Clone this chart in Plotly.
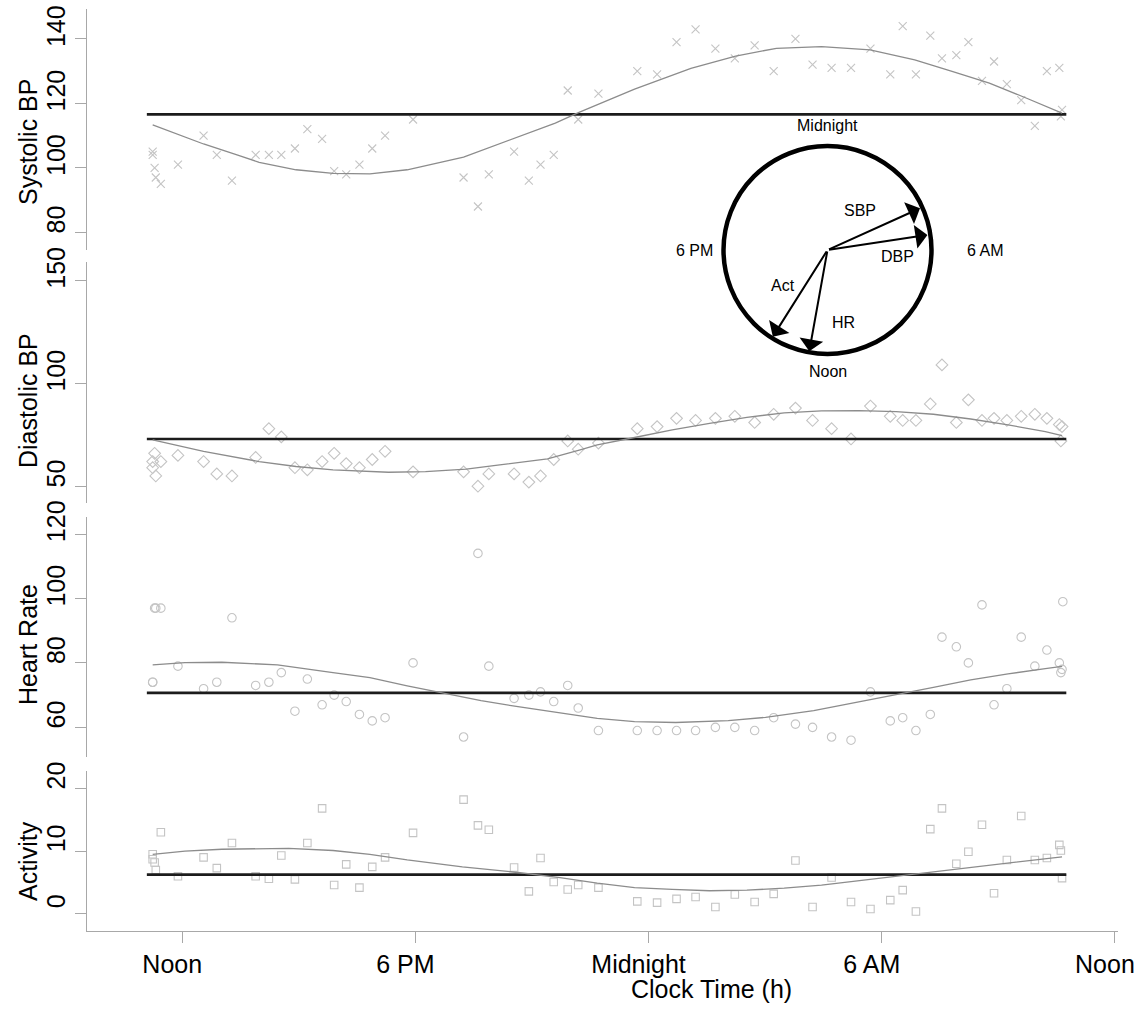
import math
import plotly.graph_objects as go

# ---------------- data ----------------
hours = [11.24, 11.24, 11.29, 11.32, 11.45, 11.89, 12.55, 12.89, 13.28, 13.89,
         14.23, 14.55, 14.90, 15.22, 15.60, 15.91, 16.22, 16.56, 16.89, 17.22,
         17.94, 19.24, 19.61, 19.89, 20.54, 20.92, 21.22, 21.56, 21.92, 22.19,
         22.71, 23.71, 24.22, 24.72, 25.21, 25.72, 26.22, 26.73, 27.22, 27.78,
         28.22, 28.71, 29.21, 29.71, 30.22, 30.54, 30.88, 31.25, 31.55, 31.92,
         32.23, 32.58, 32.89, 33.22, 33.59, 33.94, 34.25, 34.57, 34.61, 34.64]
hr_hours = hours + [34.66]

sbp = [105, 104, 100, 97, 95, 101, 110, 104, 96, 104,
       104, 104, 106, 112, 109, 99, 98, 101, 106, 110,
       115, 97, 88, 98, 105, 96, 101, 104, 124, 115,
       123, 130, 129, 139, 143, 137, 134, 138, 130, 140,
       132, 131, 131, 137, 129, 144, 129, 141, 134, 135,
       139, 127, 133, 126, 121, 113, 130, 131, 116, 118]
dbp = [62, 59, 66, 55, 62, 65, 62, 56, 55, 64,
       78, 74, 59, 58, 62, 66, 61, 59, 63, 67,
       57, 57, 50, 56, 56, 52, 55, 63, 72, 68,
       71, 78, 79, 83, 82, 83, 84, 81, 85, 88,
       82, 78, 73, 89, 84, 82, 82, 90, 109, 81,
       92, 82, 83, 82, 84, 85, 83, 80, 72, 79]
hr = [74, 74, 97, 97, 97, 79, 72, 74, 94, 73,
      74, 77, 65, 75, 67, 70, 68, 64, 62, 63,
      80, 57, 114, 79, 69, 70, 71, 68, 73, 66,
      59, 59, 59, 59, 59, 60, 60, 59, 63, 61,
      60, 57, 56, 71, 62, 63, 59, 64, 88, 85,
      80, 98, 67, 72, 88, 79, 84, 80, 77, 78, 99]
act = [9.5, 8.7, 8.2, 7.0, 13.0, 6.0, 9.0, 7.3, 11.3, 6.0,
       5.6, 9.3, 5.5, 11.3, 16.8, 4.6, 7.9, 4.2, 7.5, 9.0,
       12.9, 18.2, 14.1, 13.4, 7.4, 3.6, 8.9, 5.1, 3.9, 4.6,
       4.2, 2.0, 1.8, 2.4, 2.7, 1.1, 3.1, 1.9, 3.2, 8.5,
       1.1, 5.8, 1.9, 0.8, 2.2, 3.8, 0.4, 13.5, 16.8, 8.0,
       9.9, 14.2, 3.3, 8.6, 15.6, 8.6, 8.9, 11.0, 10.1, 5.7]

# fitted curves
sbp_fit_h = [11.24, 12.55, 13.41, 13.98, 14.93, 15.88, 16.83, 17.79, 19.24, 20.64, 21.60, 22.21,
             23.64, 25.09, 26.24, 27.29, 28.45, 29.70, 30.85, 31.81, 32.77, 33.73, 34.64]
sbp_fit = [113.3, 107.4, 104.0, 101.7, 99.4, 98.3, 98.1, 99.4, 103.3, 109.7, 113.9, 117.2,
           124.4, 130.9, 134.7, 137.1, 137.6, 136.6, 133.5, 129.9, 126.3, 121.6, 117.0]
dbp_fit_h = [11.24, 12.55, 13.98, 14.93, 15.88, 17.31, 18.26, 19.31, 20.17, 21.40, 22.24, 22.68, 23.64,
             24.61, 25.57, 26.53, 27.49, 28.45, 29.41, 30.37, 31.33, 32.29, 33.25, 34.21, 34.64]
dbp_fit = [72.5, 66.9, 62.0, 59.6, 58.0, 56.8, 57.1, 58.3, 60.4, 63.3, 67.7, 70.1, 73.7,
           77.4, 80.6, 83.5, 85.7, 86.6, 86.8, 86.3, 85.0, 82.7, 79.8, 76.6, 74.6]
hr_fit_h = [11.24, 12.07, 13.02, 14.45, 15.88, 16.83, 17.79, 18.74, 19.69, 20.64, 21.60, 22.68,
            23.64, 24.70, 26.05, 27.01, 28.25, 29.41, 30.56, 31.33, 32.29, 33.25, 34.21, 34.64]
hr_fit = [79.4, 80.1, 80.2, 79.4, 77.0, 75.4, 72.9, 70.5, 68.3, 66.4, 64.6, 62.8,
          61.8, 61.5, 62.1, 63.1, 65.2, 68.0, 70.6, 72.4, 74.7, 76.6, 78.2, 78.9]
act_fit_h = [11.24, 12.07, 13.02, 14.74, 15.88, 16.83, 17.79, 19.21, 20.64, 21.72, 22.68, 23.64,
             24.61, 25.57, 26.53, 27.49, 28.45, 29.41, 30.37, 31.33, 32.29, 33.25, 34.21, 34.64]
act_fit = [9.5, 10.0, 10.3, 10.45, 10.1, 9.5, 8.6, 7.5, 6.6, 5.8, 4.9, 4.2,
           3.9, 3.7, 3.8, 4.1, 4.6, 5.3, 5.9, 6.6, 7.3, 8.1, 8.8, 9.1]

# MESOR (horizontal line) per variable, and its time span
means = {"sbp": 116.6, "dbp": 73.0, "hr": 70.7, "act": 6.26}
mean_span = [11.09, 34.75]

# x-axis ticks
x_tickvals = [12, 18, 24, 30, 36]
x_ticktext = ["Noon", "6 PM", "Midnight", "6 AM", "Noon"]

# inset clock: acrophase vectors
vec_labels = ["SBP", "DBP", "HR", "Act"]
vec_acrophase_h = [4.38, 5.43, 12.68, 14.15]
vec_length = [0.976, 0.972, 0.99, 0.985]
clock_labels = ["Midnight", "6 AM", "Noon", "6 PM"]
clock_hours = [0, 6, 12, 18]

# ---------------- layout helpers ----------------
W, H = 1145, 1009
FONT = "Liberation Sans, Arial, Helvetica, sans-serif"
PT_COL = "#c4c4c4"
FIT_COL = "#8c8c8c"
MEAN_COL = "#1c1c1c"
AX_COL = "#a8a8a8"


def fx(p):
    return p / W


def fy(p):
    return 1 - p / H


fig = go.Figure()

panels = [
    dict(ax="y", t=hours, v=sbp, ft=sbp_fit_h, f=sbp_fit, m=means["sbp"],
         marker=dict(symbol="x-thin", size=8, line=dict(width=1.1, color=PT_COL))),
    dict(ax="y2", t=hours, v=dbp, ft=dbp_fit_h, f=dbp_fit, m=means["dbp"],
         marker=dict(symbol="diamond-open", size=9, color=PT_COL, line=dict(width=1.1))),
    dict(ax="y3", t=hr_hours, v=hr, ft=hr_fit_h, f=hr_fit, m=means["hr"],
         marker=dict(symbol="circle-open", size=8.5, color=PT_COL, line=dict(width=1.1))),
    dict(ax="y4", t=hours, v=act, ft=act_fit_h, f=act_fit, m=means["act"],
         marker=dict(symbol="square-open", size=7.5, color=PT_COL, line=dict(width=1.1))),
]

for p in panels:
    fig.add_trace(go.Scatter(x=p["t"], y=p["v"], mode="markers", marker=p["marker"],
                             xaxis="x", yaxis=p["ax"], showlegend=False, hoverinfo="x+y"))
    fig.add_trace(go.Scatter(x=mean_span, y=[p["m"], p["m"]], mode="lines",
                             line=dict(color=MEAN_COL, width=2.6),
                             xaxis="x", yaxis=p["ax"], showlegend=False, hoverinfo="skip"))
    fig.add_trace(go.Scatter(x=p["ft"], y=p["f"], mode="lines",
                             line=dict(color=FIT_COL, width=1.3),
                             xaxis="x", yaxis=p["ax"], showlegend=False, hoverinfo="skip"))

# invisible anchor trace for the inset clock axes
fig.add_trace(go.Scatter(x=[0], y=[0], mode="markers", marker=dict(size=1, color="rgba(0,0,0,0)"),
                         xaxis="x5", yaxis="y5", showlegend=False, hoverinfo="skip"))

yaxis_common = dict(anchor="x", showline=True, linecolor=AX_COL, linewidth=1,
                    ticks="outside", ticklen=11, tickcolor=AX_COL, tickwidth=1,
                    tickangle=-90, tickfont=dict(size=25, color="black", family=FONT),
                    showgrid=False, zeroline=False, ticklabelshift=-9, automargin=False)

layout_axes = dict(
    xaxis=dict(domain=[fx(87), fx(1118)], range=[9.55, 36.08], anchor="y4",
               showline=True, linecolor=AX_COL, linewidth=1,
               ticks="outside", ticklen=11, tickcolor=AX_COL, tickwidth=1,
               tickvals=x_tickvals, ticktext=x_ticktext,
               tickfont=dict(size=25, color="black", family=FONT),
               showgrid=False, zeroline=False, ticklabelshift=-10, automargin=False),
    yaxis=dict(domain=[fy(250), fy(9.3)], range=[74.5, 149.2], tickvals=[80, 100, 120, 140], **yaxis_common),
    yaxis2=dict(domain=[fy(503.3), fy(262.3)], range=[41.7, 158.9], tickvals=[50, 100, 150], **yaxis_common),
    yaxis3=dict(domain=[fy(757.3), fy(517.3)], range=[50.7, 125.2], tickvals=[60, 80, 100, 120], **yaxis_common),
    yaxis4=dict(domain=[fy(930.7), fy(771)], range=[-2.66, 22.75], tickvals=[0, 10, 20], **yaxis_common),
)

# inset clock axes (square in pixels)
cx, cy, R = 827.5, 250.0, 104.0
span = 1.65
layout_axes["xaxis5"] = dict(domain=[fx(cx - span * R), fx(cx + span * R)], range=[-span, span],
                             anchor="y5", visible=False, fixedrange=True, automargin=False)
layout_axes["yaxis5"] = dict(domain=[fy(cy + span * R), fy(cy - span * R)], range=[-span, span],
                             anchor="x5", visible=False, fixedrange=True, automargin=False)

annotations = []
shapes = [dict(type="circle", xref="x5", yref="y5", x0=-1, y0=-1, x1=1, y1=1,
               line=dict(color="black", width=4.5), layer="above")]

for lab, h, L in zip(vec_labels, vec_acrophase_h, vec_length):
    th = h / 24 * 2 * math.pi
    annotations.append(dict(x=L * math.sin(th), y=L * math.cos(th), xref="x5", yref="y5",
                            ax=0, ay=0, axref="x5", ayref="y5", text="", showarrow=True,
                            arrowhead=1, arrowsize=2, arrowwidth=2, arrowcolor="black",
                            standoff=0))

vec_label_pos = {"SBP": (0.31, 0.38), "DBP": (0.675, -0.06), "HR": (0.15, -0.70), "Act": (-0.43, -0.34)}
for lab in vec_labels:
    x, y = vec_label_pos[lab]
    annotations.append(dict(x=x, y=y, xref="x5", yref="y5", text=lab, showarrow=False,
                            font=dict(size=16, color="black", family=FONT)))

clock_label_r = {"Midnight": 1.2, "6 AM": 1.51, "Noon": 1.17, "6 PM": 1.28}
for lab, h in zip(clock_labels, clock_hours):
    th = h / 24 * 2 * math.pi
    r = clock_label_r[lab]
    annotations.append(dict(x=r * math.sin(th), y=r * math.cos(th), xref="x5", yref="y5",
                            text=lab, showarrow=False,
                            font=dict(size=16, color="black", family=FONT)))

# axis titles
ytitles = [("Systolic BP", 142), ("Diastolic BP", 401), ("Heart Rate", 645), ("Activity", 861)]
for t, ypx in ytitles:
    annotations.append(dict(x=fx(28), y=fy(ypx), xref="paper", yref="paper", text=t,
                            textangle=-90, showarrow=False, xanchor="center", yanchor="middle",
                            font=dict(size=25, color="black", family=FONT)))
annotations.append(dict(x=fx(711), y=fy(989), xref="paper", yref="paper", text="Clock Time (h)",
                        showarrow=False, xanchor="center", yanchor="middle",
                        font=dict(size=25, color="black", family=FONT)))

fig.update_layout(
    template="none",
    width=W, height=H,
    autosize=False,
    margin=dict(l=0, r=0, t=0, b=0, pad=0, autoexpand=False),
    paper_bgcolor="white", plot_bgcolor="rgba(0,0,0,0)",
    font=dict(family=FONT, color="black"),
    showlegend=False,
    annotations=annotations,
    shapes=shapes,
    **layout_axes,
)

fig.write_html("out.html", config={"displayModeBar": False},
               post_script="document.body.style.margin='0';document.body.style.overflow='hidden';")
